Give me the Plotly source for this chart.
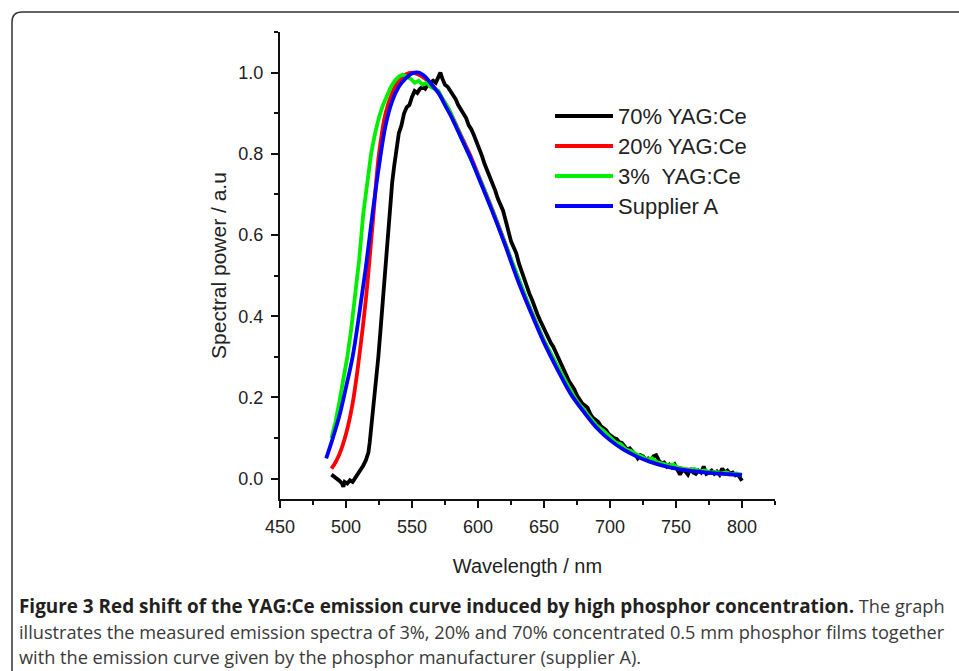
import plotly.graph_objects as go

# ---------------- data ----------------
series_names = ["70% YAG:Ce", "20% YAG:Ce", "3%  YAG:Ce", "Supplier A"]
series_colors = ["#000000", "#ff0000", "#00ee00", "#0000ff"]

wl_70 = [489, 491, 493, 495, 497, 498, 499, 501, 503, 505, 507, 509, 511, 513, 515, 517, 518, 519, 520, 521,
         522, 523, 524.5, 526, 527.5, 529, 530.5, 532, 533.5, 535, 536.5, 538, 540, 542, 544, 546, 548, 550, 552, 554,
         556, 558, 560, 562, 564, 566, 568, 570, 571.5, 573, 575, 577, 579, 581, 583, 585, 587, 589, 591, 593,
         595, 597, 599, 601, 603, 605, 607, 609, 611, 613, 615, 617, 619, 621, 623, 625, 627, 629, 631, 633,
         635, 637, 639, 641, 643, 645, 647, 649, 651, 653, 655, 657, 659, 661, 663, 665, 667, 669, 671, 673,
         675, 677, 679, 681, 683, 685, 687, 689, 691, 693, 695, 697, 699, 701, 703, 705, 707, 709, 711, 713,
         715, 717, 719, 721, 723, 725, 727, 729, 731, 733, 735, 737, 739, 741, 743, 745, 747, 749, 751, 753,
         755, 757, 759, 761, 763, 765, 767, 769, 771, 773, 775, 777, 779, 781, 783, 785, 787, 789, 791, 793,
         795, 797, 799, 800]
sp_70 = [0.01, 0.005, 0.002, -0.005, -0.012, -0.02, -0.008, -0.012, -0.004, -0.008, 0.002, 0.012, 0.02, 0.032, 0.045, 0.065, 0.09, 0.12, 0.15, 0.19,
         0.22, 0.25, 0.30, 0.36, 0.42, 0.48, 0.55, 0.62, 0.68, 0.73, 0.77, 0.81, 0.85, 0.87, 0.90, 0.915, 0.92, 0.94, 0.955, 0.95,
         0.96, 0.965, 0.96, 0.97, 0.975, 0.98, 0.975, 0.99, 1.0, 0.985, 0.97, 0.965, 0.955, 0.945, 0.935, 0.92, 0.91, 0.90, 0.888, 0.87,
         0.86, 0.845, 0.83, 0.815, 0.795, 0.775, 0.76, 0.745, 0.725, 0.71, 0.69, 0.672, 0.66, 0.635, 0.61, 0.585, 0.57, 0.555, 0.53, 0.51,
         0.495, 0.475, 0.455, 0.44, 0.42, 0.405, 0.39, 0.375, 0.36, 0.35, 0.335, 0.325, 0.31, 0.295, 0.28, 0.265, 0.255, 0.24, 0.23, 0.22,
         0.205, 0.195, 0.185, 0.18, 0.175, 0.16, 0.15, 0.145, 0.14, 0.13, 0.125, 0.12, 0.11, 0.105, 0.10, 0.098, 0.09, 0.088, 0.08, 0.072,
         0.075, 0.068, 0.06, 0.05, 0.058, 0.055, 0.048, 0.05, 0.045, 0.055, 0.058, 0.045, 0.038, 0.04, 0.03, 0.035, 0.028, 0.035, 0.02, 0.01,
         0.022, 0.018, 0.01, 0.025, 0.015, 0.012, 0.02, 0.015, 0.03, 0.012, 0.015, 0.02, 0.012, 0.018, 0.01, 0.025, 0.015, 0.02, 0.012, 0.015,
         0.008, 0.01, 0.0, -0.005]

wl_20 = [489, 492, 495, 500, 505, 510, 515, 520, 525, 530, 535, 540, 545, 550, 555, 560, 565, 570, 575, 580,
         585, 590, 595, 600, 610, 620, 630, 640, 650, 660, 670, 680, 690, 700, 710, 720, 730, 740, 750, 760,
         770, 780, 790, 800]
sp_20 = [0.025, 0.04, 0.06, 0.11, 0.185, 0.30, 0.44, 0.62, 0.80, 0.90, 0.95, 0.98, 0.995, 1.0, 0.995, 0.985, 0.97, 0.95, 0.925, 0.895,
         0.86, 0.825, 0.79, 0.75, 0.67, 0.585, 0.495, 0.415, 0.34, 0.275, 0.215, 0.17, 0.13, 0.10, 0.076, 0.058, 0.045, 0.034, 0.027, 0.022,
         0.017, 0.014, 0.012, 0.01]

wl_3 = [489, 492, 495, 498, 501, 504, 507, 510, 513, 516, 519, 522, 525, 528, 531, 534, 537, 540, 543, 546,
        549, 552, 555, 558, 561, 564, 567, 570, 574, 578, 582, 586, 590, 595, 600, 605, 610, 615, 620, 625,
        630, 635, 640, 645, 650, 655, 660, 665, 670, 675, 680, 685, 690, 695, 700, 704, 708, 712, 716, 720,
        724, 728, 732, 736, 740, 744, 748, 752, 756, 760, 764, 768, 772, 776, 780, 784, 788, 792, 796, 800]
sp_3 = [0.10, 0.14, 0.19, 0.24, 0.30, 0.37, 0.45, 0.54, 0.65, 0.73, 0.80, 0.85, 0.89, 0.92, 0.945, 0.965, 0.98, 0.99, 0.995, 0.99,
        0.985, 0.975, 0.98, 0.97, 0.975, 0.965, 0.96, 0.955, 0.93, 0.91, 0.88, 0.85, 0.82, 0.785, 0.75, 0.71, 0.668, 0.625, 0.585, 0.54,
        0.495, 0.455, 0.415, 0.378, 0.34, 0.31, 0.278, 0.245, 0.218, 0.19, 0.17, 0.15, 0.13, 0.118, 0.102, 0.09, 0.085, 0.072, 0.068, 0.06,
        0.055, 0.047, 0.05, 0.04, 0.037, 0.033, 0.035, 0.026, 0.025, 0.021, 0.024, 0.018, 0.02, 0.015, 0.017, 0.012, 0.016, 0.011, 0.013, 0.008]

wl_a = [485, 490, 495, 500, 505, 510, 515, 520, 525, 530, 535, 540, 545, 550, 555, 560, 565, 570, 575, 580,
        585, 590, 595, 600, 610, 620, 630, 640, 650, 660, 670, 680, 690, 700, 710, 720, 730, 740, 750, 760,
        770, 780, 790, 800]
sp_a = [0.05, 0.10, 0.155, 0.225, 0.30, 0.405, 0.52, 0.65, 0.77, 0.87, 0.93, 0.965, 0.985, 0.998, 1.0, 0.99, 0.97, 0.95, 0.92, 0.89,
        0.855, 0.82, 0.785, 0.745, 0.665, 0.58, 0.49, 0.41, 0.335, 0.27, 0.21, 0.165, 0.125, 0.095, 0.072, 0.055, 0.042, 0.032, 0.025, 0.02,
        0.016, 0.013, 0.011, 0.009]

x_ticks = [450, 500, 550, 600, 650, 700, 750, 800]
y_ticks = [0.0, 0.2, 0.4, 0.6, 0.8, 1.0]
x_title = "Wavelength / nm"
y_title = "Spectral power / a.u"
caption_bold = "Figure 3 Red shift of the YAG:Ce emission curve induced by high phosphor concentration."
caption_lines = [
    " The graph",
    "illustrates the measured emission spectra of 3%, 20% and 70% concentrated 0.5 mm phosphor films together",
    "with the emission curve given by the phosphor manufacturer (supplier A).",
]

# ---------------- layout geometry (pixels) ----------------
W, H = 959, 671
L, R, T, B = 280, 184, 32, 172
PW, PH = W - L - R, H - T - B


def px(x):
    return (x - L) / PW


def py(y):
    return (H - B - y) / PH


fig = go.Figure()
all_x = [wl_70, wl_20, wl_3, wl_a]
all_y = [sp_70, sp_20, sp_3, sp_a]
shapes_ = ["linear", "spline", "linear", "spline"]
for name, col, xs, ys, sh in zip(series_names, series_colors, all_x, all_y, shapes_):
    fig.add_trace(go.Scatter(x=xs, y=ys, mode="lines", name=name,
                             line=dict(color=col, width=3.8, shape=sh), showlegend=False))

axis_font = dict(family="Liberation Sans, Arial, sans-serif", size=18, color="#222")
title_font = dict(family="Liberation Sans, Arial, sans-serif", size=20, color="#222")

fig.update_xaxes(range=[450, 825], tickvals=x_ticks, ticktext=[str(v) for v in x_ticks],
                 showline=True, linecolor="#111", linewidth=2, ticks="outside", ticklen=7, tickwidth=2,
                 tickcolor="#111", showgrid=False, zeroline=False, tickfont=axis_font, ticklabelstandoff=3,
                 minor=dict(dtick=25, tick0=450, ticks="outside", ticklen=4, tickwidth=2, tickcolor="#111", showgrid=False),
                 title=dict(text=x_title, font=title_font, standoff=23))
fig.update_yaxes(range=[-0.05, 1.1], tickvals=y_ticks, ticktext=[f"{v:.1f}" for v in y_ticks],
                 showline=True, linecolor="#111", linewidth=2, ticks="outside", ticklen=7, tickwidth=2,
                 tickcolor="#111", showgrid=False, zeroline=False, tickfont=axis_font, ticklabelstandoff=4,
                 minor=dict(dtick=0.1, tick0=0, ticks="outside", ticklen=4, tickwidth=2, tickcolor="#111", showgrid=False),
                 title=dict(text=y_title, font=dict(family="Liberation Sans, Arial, sans-serif", size=21, color="#222"),
                            standoff=6))

shapes = []
annotations = []
# manual legend
leg_rows = [116, 146, 176, 206]
for name, col, yrow in zip(series_names, series_colors, leg_rows):
    shapes.append(dict(type="line", xref="paper", yref="paper", x0=px(555), x1=px(613), y0=py(yrow), y1=py(yrow),
                       line=dict(color=col, width=4)))
    annotations.append(dict(xref="paper", yref="paper", x=px(616), y=py(yrow), text=name.replace("  ", "&nbsp; "),
                            showarrow=False, xanchor="left", yanchor="middle",
                            font=dict(family="Liberation Sans, Arial, sans-serif", size=22, color="#222")))

# frame of the figure box (rounded top-left corner)
r = 10
path = (f"M {px(12)},{py(700)} L {px(12)},{py(12 + r)} Q {px(12)},{py(12)} {px(12 + r)},{py(12)} "
        f"L {px(980)},{py(12)}")
shapes.append(dict(type="path", xref="paper", yref="paper", path=path, line=dict(color="#333", width=1.5)))

# caption
cap_rows = [606, 632, 657]
cap_texts = [
    f"<span style='font-size:18.9px;color:#231f20'><b>{caption_bold}</b></span>"
    f"<span style='font-size:18.2px'>{caption_lines[0]}</span>",
    caption_lines[1],
    caption_lines[2],
]
for txt, yrow in zip(cap_texts, cap_rows):
    annotations.append(dict(xref="paper", yref="paper", x=px(17), y=py(yrow), text=txt, showarrow=False,
                            xanchor="left", yanchor="middle", align="left",
                            font=dict(family="Open Sans, sans-serif", size=18.2, color="#3a3a3a")))

fig.update_layout(width=W, height=H, margin=dict(l=L, r=R, t=T, b=B, pad=0),
                  paper_bgcolor="white", plot_bgcolor="white",
                  shapes=shapes, annotations=annotations)

fig.write_html("out.html")
